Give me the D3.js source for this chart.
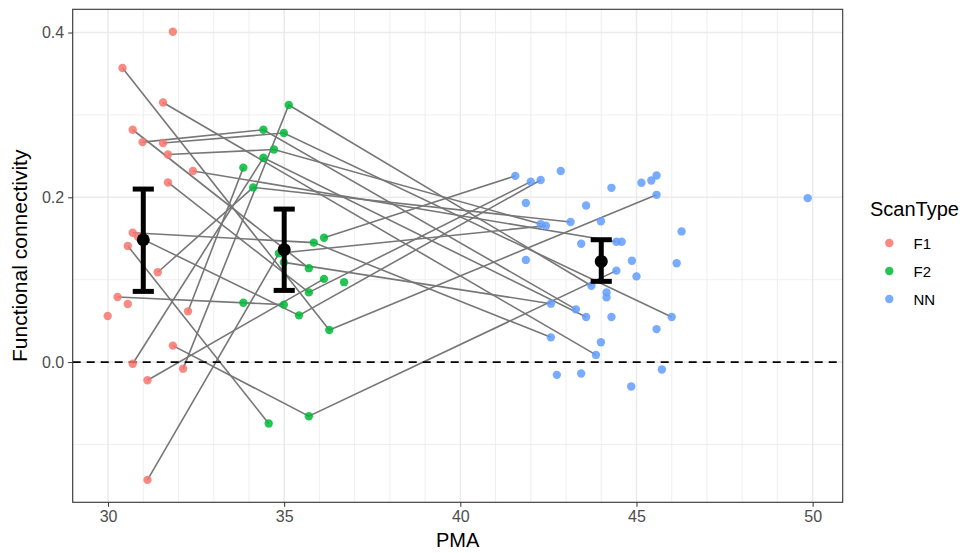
<!DOCTYPE html>
<html>
<head>
<meta charset="utf-8">
<script src="https://cdn.jsdelivr.net/npm/d3@7"></script>
<style>
  body { margin: 0; background: #fff; }
  svg { font-family: "Liberation Sans", Arial, sans-serif; }
  .tick text { fill: #4d4d4d; font-size: 16px; }
  .tick line { stroke: #333; }
  .domain { display: none; }
</style>
</head>
<body>
<svg id="chart" width="977" height="553"></svg>
<script>
// F1 scans
const f1PMA = [31.84, 30.41, 31.56, 30.70, 30.98, 31.56, 31.70, 32.41, 31.70, 30.70, 30.85, 30.56,
               31.41, 30.27, 30.56, 29.99, 32.27, 31.84, 30.70, 32.13, 31.12, 31.12];
const f1FC  = [0.401, 0.357, 0.315, 0.282, 0.267, 0.266, 0.252, 0.232, 0.218, 0.157, 0.152, 0.141,
               0.109, 0.079, 0.0705, 0.056, 0.0616, 0.020, -0.002, -0.008, -0.022, -0.143];
const f1Subj = ['s22', 's1', 's2', 's3', 's4', 's5', 's6', 's7', 's8', 's9', 's10', 's11',
                's12', 's13', 's14', 's15', 's16', 's17', 's18', 's19', 's20', 's21'];

// F2 scans
const f2PMA = [35.13, 34.41, 34.99, 34.71, 34.41, 33.84, 34.12, 36.13, 35.84, 34.85, 34.99, 35.70,
               36.13, 36.70, 35.70, 33.84, 34.99, 35.42, 36.28, 35.70, 34.56];
const f2FC  = [0.312, 0.282, 0.278, 0.258, 0.248, 0.236, 0.212, 0.151, 0.145, 0.132, 0.121, 0.114,
               0.101, 0.097, 0.0846, 0.072, 0.0697, 0.0567, 0.039, -0.0657, -0.0745];
const f2Subj = ['s19', 's4', 's5', 's6', 's18', 's16', 's12', 's23', 's9', 's21', 's24', 's3',
                's20', 's26', 's8', 's25', 's13', 's10', 's1', 's17', 's11'];

// NN scans
const nnPMA = [41.56, 42.00, 42.28, 42.85, 44.29, 45.14, 45.42, 45.57, 45.57, 41.86, 43.57, 43.13,
               43.99, 42.28, 42.43, 43.43, 44.43, 44.58, 41.86, 44.87, 46.14, 46.28, 44.43, 45.00,
               49.86, 43.72, 44.15, 44.15, 42.57, 43.28, 43.57, 44.29, 46.00, 45.57, 42.57, 43.99,
               43.85, 45.72, 42.74, 43.43, 44.85];
const nnFC  = [0.226, 0.219, 0.221, 0.232, 0.2115, 0.2176, 0.2204, 0.2264, 0.203, 0.193, 0.190, 0.170,
               0.171, 0.1675, 0.1655, 0.1436, 0.146, 0.146, 0.124, 0.123, 0.120, 0.1586, 0.111, 0.104,
               0.199, 0.0927, 0.0846, 0.0785, 0.0709, 0.064, 0.0548, 0.0548, 0.0548, 0.040, 0.030, 0.024,
               0.0087, -0.009, -0.0155, -0.0139, -0.0297];
const nnSubj = ['s23', 's8', 's10', null, null, null, null, null, 's1', null, null, 's12',
                null, 's6', 's21', null, 's7', null, null, null, null, null, 's17', null,
                null, 's19', null, null, 's24', 's4', 's18', null, 's5', null, 's9', null,
                's2', null, null, null, null];

// group summaries (mean +/- error)
const sumPMA = [31, 35, 44];
const sumMean = [0.1485, 0.1364, 0.1222];
const sumLo = [0.0858, 0.087, 0.098];
const sumHi = [0.21, 0.1857, 0.1485];

const scanTypes = ['F1', 'F2', 'NN'];
const scanColors = ['#F8766D', '#00BA38', '#619CFF'];
const xTicks = [30, 35, 40, 45, 50];
const yTicks = [0.0, 0.2, 0.4];

const pts = [];
f1PMA.forEach((v, i) => pts.push({ pma: v, fc: f1FC[i], subj: f1Subj[i], type: 'F1' }));
f2PMA.forEach((v, i) => pts.push({ pma: v, fc: f2FC[i], subj: f2Subj[i], type: 'F2' }));
nnPMA.forEach((v, i) => pts.push({ pma: v, fc: nnFC[i], subj: nnSubj[i], type: 'NN' }));

const panel = { left: 72.7, right: 842.7, top: 9.3, bottom: 502.3 };

function expand(ext) {
  const pad = (ext[1] - ext[0]) * 0.05;
  return [ext[0] - pad, ext[1] + pad];
}

const x = d3.scaleLinear().domain(expand(d3.extent(pts, d => d.pma))).range([panel.left, panel.right]);
const y = d3.scaleLinear().domain(expand(d3.extent(pts, d => d.fc))).range([panel.bottom, panel.top]);
const color = d3.scaleOrdinal().domain(scanTypes).range(scanColors);

const svg = d3.select('#chart');

// grid
const grid = svg.append('g');
const xMinor = d3.range(Math.ceil(x.domain()[0]), Math.floor(x.domain()[1]) + 1).filter(v => v % 5 !== 0);
const yMinor = [-0.1, 0.1, 0.3];
grid.selectAll('line.xminor').data(xMinor).enter().append('line')
  .attr('x1', d => x(d)).attr('x2', d => x(d)).attr('y1', panel.top).attr('y2', panel.bottom)
  .attr('stroke', '#ebebeb').attr('stroke-width', 0.8);
grid.selectAll('line.yminor').data(yMinor).enter().append('line')
  .attr('y1', d => y(d)).attr('y2', d => y(d)).attr('x1', panel.left).attr('x2', panel.right)
  .attr('stroke', '#ebebeb').attr('stroke-width', 0.8);
grid.selectAll('line.xmajor').data(xTicks).enter().append('line')
  .attr('x1', d => x(d)).attr('x2', d => x(d)).attr('y1', panel.top).attr('y2', panel.bottom)
  .attr('stroke', '#ebebeb').attr('stroke-width', 1.6);
grid.selectAll('line.ymajor').data(yTicks).enter().append('line')
  .attr('y1', d => y(d)).attr('y2', d => y(d)).attr('x1', panel.left).attr('x2', panel.right)
  .attr('stroke', '#ebebeb').attr('stroke-width', 1.6);

// subject lines
const bySubj = d3.groups(pts.filter(d => d.subj), d => d.subj)
  .filter(g => g[1].length > 1)
  .map(g => g[1].slice().sort((a, b) => a.pma - b.pma));
const line = d3.line().x(d => x(d.pma)).y(d => y(d.fc));
svg.append('g').selectAll('path').data(bySubj).enter().append('path')
  .attr('d', line).attr('fill', 'none').attr('stroke', '#777').attr('stroke-width', 1.6);

// zero line
svg.append('line')
  .attr('x1', panel.left).attr('x2', panel.right).attr('y1', y(0)).attr('y2', y(0))
  .attr('stroke', '#000').attr('stroke-width', 1.6).attr('stroke-dasharray', '8,6');

// points
svg.append('g').selectAll('circle').data(pts).enter().append('circle')
  .attr('cx', d => x(d.pma)).attr('cy', d => y(d.fc)).attr('r', 4.2)
  .attr('fill', d => color(d.type)).attr('fill-opacity', 0.85);

// error bars + means
const eb = svg.append('g');
const capW = 0.3;
eb.selectAll('line.v').data(sumPMA).enter().append('line')
  .attr('x1', d => x(d)).attr('x2', d => x(d))
  .attr('y1', (d, i) => y(sumLo[i])).attr('y2', (d, i) => y(sumHi[i]))
  .attr('stroke', '#000').attr('stroke-width', 5);
eb.selectAll('line.hi').data(sumPMA).enter().append('line')
  .attr('x1', d => x(d - capW)).attr('x2', d => x(d + capW))
  .attr('y1', (d, i) => y(sumHi[i])).attr('y2', (d, i) => y(sumHi[i]))
  .attr('stroke', '#000').attr('stroke-width', 5);
eb.selectAll('line.lo').data(sumPMA).enter().append('line')
  .attr('x1', d => x(d - capW)).attr('x2', d => x(d + capW))
  .attr('y1', (d, i) => y(sumLo[i])).attr('y2', (d, i) => y(sumLo[i]))
  .attr('stroke', '#000').attr('stroke-width', 5);
eb.selectAll('circle').data(sumPMA).enter().append('circle')
  .attr('cx', d => x(d)).attr('cy', (d, i) => y(sumMean[i])).attr('r', 6.5).attr('fill', '#000');

// panel border
svg.append('rect')
  .attr('x', panel.left).attr('y', panel.top)
  .attr('width', panel.right - panel.left).attr('height', panel.bottom - panel.top)
  .attr('fill', 'none').attr('stroke', '#333').attr('stroke-width', 1.1);

// axes
svg.append('g').attr('transform', `translate(0,${panel.bottom})`)
  .call(d3.axisBottom(x).tickValues(xTicks).tickSize(4.5).tickPadding(4).tickFormat(d3.format('d')));
svg.append('g').attr('transform', `translate(${panel.left},0)`)
  .call(d3.axisLeft(y).tickValues(yTicks).tickSize(4.5).tickPadding(4).tickFormat(d3.format('.1f')));

// axis titles
svg.append('text')
  .attr('x', (panel.left + panel.right) / 2).attr('y', 547)
  .attr('text-anchor', 'middle').attr('font-size', 20).attr('fill', '#000').text('PMA');
svg.append('text')
  .attr('transform', `translate(27,${(panel.top + panel.bottom) / 2}) rotate(-90)`)
  .attr('text-anchor', 'middle').attr('font-size', 21).attr('fill', '#000').text('Functional connectivity');

// legend
const lg = svg.append('g').attr('transform', 'translate(870,0)');
lg.append('text').attr('x', 0).attr('y', 216).attr('font-size', 20).attr('fill', '#000').text('ScanType');
const items = lg.selectAll('g.item').data(scanTypes).enter().append('g')
  .attr('transform', (d, i) => `translate(0,${243 + i * 28})`);
items.append('circle').attr('cx', 19.3).attr('cy', 0).attr('r', 4.2)
  .attr('fill', d => color(d)).attr('fill-opacity', 0.85);
items.append('text').attr('x', 43.5).attr('y', 5.5).attr('font-size', 15).attr('fill', '#000').text(d => d);
</script>
</body>
</html>
